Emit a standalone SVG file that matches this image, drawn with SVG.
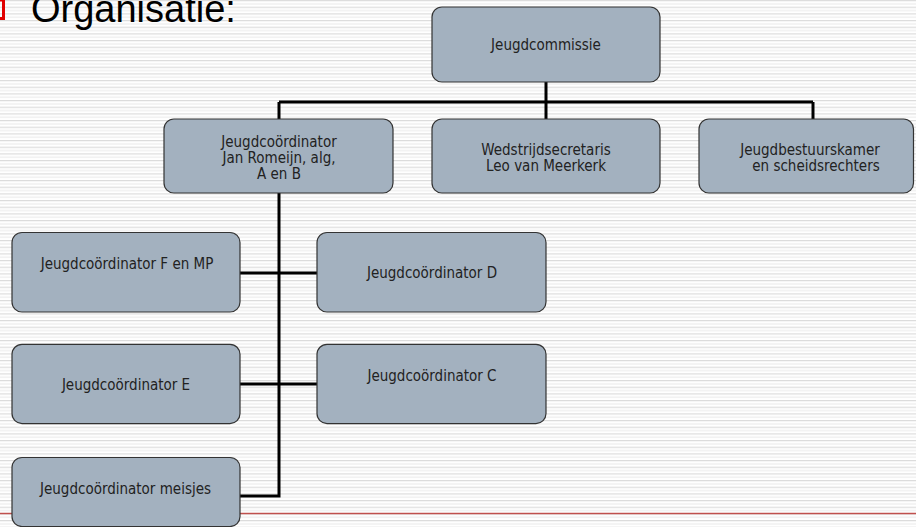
<svg xmlns="http://www.w3.org/2000/svg" width="916" height="527" viewBox="0 0 916 527">
<defs>
<pattern id="stripes" patternUnits="userSpaceOnUse" width="916" height="6.667">
<rect x="0" y="0" width="916" height="6.667" fill="#ffffff"/>
<rect x="0" y="0" width="916" height="1.2" fill="#dcdcdc"/>
<rect x="0" y="3.33" width="916" height="1.2" fill="#ededed"/>
</pattern>
<style>
.box{fill:#a3b1bf;stroke:#333333;stroke-width:1.2}
.lbl{font-family:"DejaVu Sans Condensed","Liberation Sans",sans-serif;font-size:15px;fill:#222222;text-anchor:middle}
.conn{fill:none;stroke:#000000;stroke-width:3}
</style>
</defs>
<rect x="0" y="0" width="916" height="527" fill="url(#stripes)"/>
<line x1="0" y1="513.5" x2="916" y2="513.5" stroke="#c0504d" stroke-width="1.5"/>
<path d="M-10,0 H3.5 V18.5 H-10" fill="none" stroke="#e00000" stroke-width="3"/>
<text x="31" y="22" font-family="Liberation Sans, Arial, sans-serif" font-size="38" fill="#000000">Organisatie:</text>
<g id="connectors">
<path class="conn" d="M546,82 V119"/>
<path class="conn" d="M279,102 H813"/>
<path class="conn" d="M279,102 V119"/>
<path class="conn" d="M813,102 V119"/>
<path class="conn" d="M279,193 V496 H240"/>
<path class="conn" d="M240,273 H317"/>
<path class="conn" d="M240,384 H317"/>
</g>
<g id="jeugdcommissie">
<rect class="box" x="432" y="7" width="228" height="75" rx="10"/>
<text class="lbl" x="546" y="50">Jeugdcommissie</text>
</g>
<g id="jeugdcoordinator">
<rect class="box" x="164" y="119" width="229" height="74" rx="10"/>
<text class="lbl" x="279" y="146.5">Jeugdcoördinator</text>
<text class="lbl" x="279" y="162.5">Jan Romeijn, alg,</text>
<text class="lbl" x="279" y="178.5">A en B</text>
</g>
<g id="wedstrijdsecretaris">
<rect class="box" x="432" y="119" width="228" height="74" rx="10"/>
<text class="lbl" x="546" y="154.5">Wedstrijdsecretaris</text>
<text class="lbl" x="546" y="171">Leo van Meerkerk</text>
</g>
<g id="jeugdbestuurskamer">
<rect class="box" x="699" y="119" width="214.5" height="74" rx="10"/>
<text class="lbl" x="810" y="154.5">Jeugdbestuurskamer</text>
<text class="lbl" x="816" y="171">en scheidsrechters</text>
</g>
<g id="coord-f-mp">
<rect class="box" x="12" y="232.5" width="228" height="79.5" rx="10"/>
<text class="lbl" x="127" y="269.3">Jeugdcoördinator F en MP</text>
</g>
<g id="coord-d">
<rect class="box" x="317" y="232.5" width="229" height="79.5" rx="10"/>
<text class="lbl" x="432" y="278.2">Jeugdcoördinator D</text>
</g>
<g id="coord-e">
<rect class="box" x="12" y="344.3" width="228" height="79.3" rx="10"/>
<text class="lbl" x="126" y="389.6">Jeugdcoördinator E</text>
</g>
<g id="coord-c">
<rect class="box" x="317" y="344.3" width="229" height="79.3" rx="10"/>
<text class="lbl" x="432" y="381">Jeugdcoördinator C</text>
</g>
<g id="coord-meisjes">
<rect class="box" x="12" y="457.5" width="228" height="69" rx="10"/>
<text class="lbl" x="125.5" y="494.3">Jeugdcoördinator meisjes</text>
</g>
</svg>
